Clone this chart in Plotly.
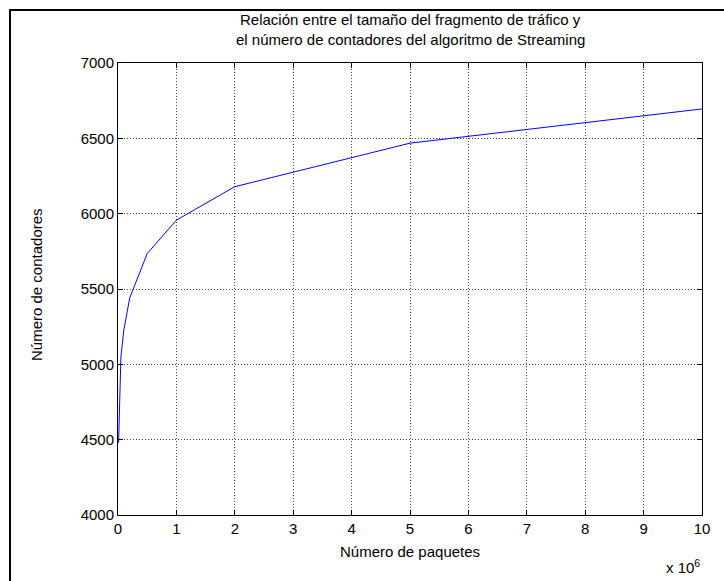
import plotly.graph_objects as go

# Data (x in millions of packets)
paquetes = [0.01, 0.05, 0.1, 0.2, 0.5, 1, 2, 5, 10]
contadores = [4480, 5050, 5228, 5440, 5735, 5957, 6179, 6468, 6695]
x_ticks = list(range(0, 11))
y_ticks = list(range(4000, 7001, 500))

FONT = "Liberation Sans, Arial, sans-serif"
FS = 15
L, R, T, B = 118, 702, 63, 515
W, H = 724, 581
pw, ph = R - L, B - T


def px(x):
    return (x - L) / pw


def py(y):
    return (B - y) / ph


fig = go.Figure()
fig.add_trace(go.Scatter(x=paquetes, y=contadores, mode="lines",
                         line=dict(color="#0000ff", width=1), showlegend=False,
                         cliponaxis=False))

axis_common = dict(showline=True, linecolor="black", linewidth=1, mirror="ticks",
                   ticks="inside", ticklen=5, tickcolor="black",
                   showgrid=True, gridcolor="#444444", griddash="1px,2px", gridwidth=1,
                   zeroline=False, tickfont=dict(family=FONT, size=FS, color="black"))

fig.update_layout(
    width=W, height=H,
    margin=dict(l=L, r=W - R, t=T, b=H - B),
    paper_bgcolor="white", plot_bgcolor="white",
    font=dict(family=FONT, size=FS, color="black"),
    xaxis=dict(range=[0, 10], tickvals=x_ticks, **axis_common),
    yaxis=dict(range=[4000, 7000], tickvals=y_ticks, **axis_common),
    shapes=[
        dict(type="line", xref="paper", yref="paper", x0=px(10), x1=px(10),
             y0=py(10), y1=py(590), line=dict(color="black", width=2)),
        dict(type="line", xref="paper", yref="paper", x0=px(9), x1=px(730),
             y0=py(10), y1=py(10), line=dict(color="black", width=2)),
    ],
    annotations=[
        dict(text="Relación entre el tamaño del fragmento de tráfico y",
             xref="paper", yref="paper", x=px(410), y=py(20),
             xanchor="center", yanchor="middle", showarrow=False,
             font=dict(family=FONT, size=FS, color="black")),
        dict(text="el número de contadores del algoritmo de Streaming",
             xref="paper", yref="paper", x=px(410), y=py(40),
             xanchor="center", yanchor="middle", showarrow=False,
             font=dict(family=FONT, size=FS, color="black")),
        dict(text="Número de paquetes",
             xref="paper", yref="paper", x=px(410), y=py(551),
             xanchor="center", yanchor="middle", showarrow=False,
             font=dict(family=FONT, size=FS, color="black")),
        dict(text="Número de contadores", textangle=-90,
             xref="paper", yref="paper", x=px(36), y=py(285),
             xanchor="center", yanchor="middle", showarrow=False,
             font=dict(family=FONT, size=FS, color="black")),
        dict(text="x 10<sup>6</sup>", xref="paper", yref="paper", x=1.0, y=py(566),
             xanchor="right", yanchor="middle", showarrow=False,
             font=dict(family=FONT, size=FS, color="black")),
    ],
)

fig.write_html("out.html")
